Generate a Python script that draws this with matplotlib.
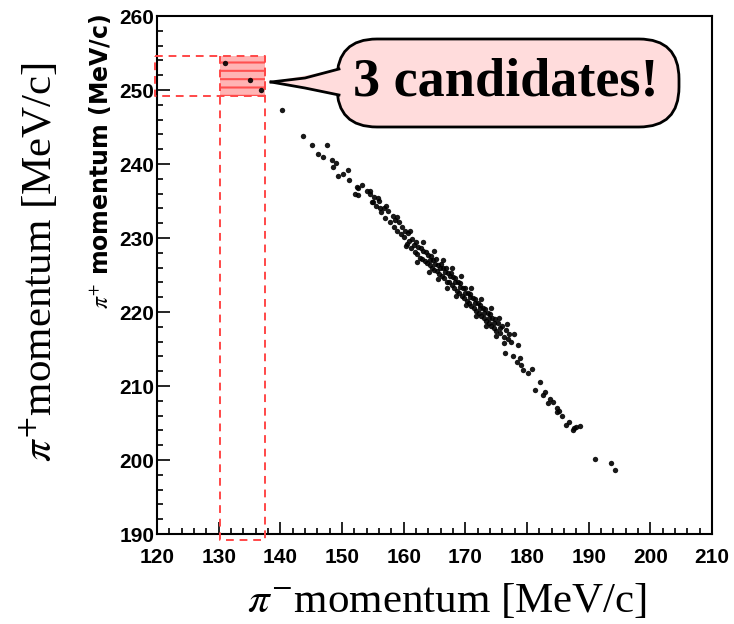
import numpy as np
import matplotlib.pyplot as plt
from matplotlib.patches import Rectangle, FancyBboxPatch, Polygon
from matplotlib.ticker import MultipleLocator

plt.rcParams['mathtext.fontset'] = 'stix'
plt.rcParams['hatch.linewidth'] = 1.5

# pi- / pi+ momentum of the events (MeV/c)
pi_minus = [140.2, 143.7, 145.1, 147.6, 147.0, 148.3, 148.6, 149.1, 149.4, 151.0,
            151.1, 152.5, 152.6, 154.0, 152.1, 152.6, 154.5, 155.0, 155.9, 156.1,
            154.5, 154.8, 155.2, 155.5, 156.0, 156.3, 156.8, 157.0, 157.5, 157.8,
            158.2, 158.4, 158.6, 159.0, 159.2, 159.5, 159.8, 160.0, 160.2, 160.5,
            160.7, 160.9, 161.2, 161.4, 161.6, 161.8, 162.0, 162.2, 162.4, 162.6,
            162.8, 163.0, 163.2, 163.4, 163.6, 163.8, 164.0, 164.2, 164.3, 164.4,
            164.6, 164.8, 165.0, 165.1, 165.2, 165.4, 165.6, 165.8, 165.9, 166.0,
            166.2, 166.4, 166.6, 166.7, 166.8, 167.0, 167.2, 167.4, 167.5, 167.6,
            167.8, 168.0, 168.2, 168.3, 168.4, 168.6, 168.8, 169.0, 169.1, 169.2,
            169.4, 169.6, 169.8, 169.9, 170.0, 170.2, 170.4, 170.6, 170.7, 170.8,
            171.0, 171.2, 171.4, 171.5, 171.6, 171.8, 172.0, 172.2, 172.3, 172.4,
            172.6, 172.8, 173.0, 173.1, 173.2, 173.4, 173.6, 173.8, 173.9, 174.0,
            174.2, 174.4, 174.6, 174.7, 174.8, 175.0, 175.3, 175.6, 175.7, 176.0,
            176.3, 176.6, 176.9, 177.1, 176.4, 177.7, 178.3, 179.1, 179.4, 180.2,
            182.1, 181.3, 182.6, 183.7, 184.2, 184.8, 185.6, 183.4, 184.8, 186.4,
            188.0, 188.6, 187.7, 191.0, 193.7, 194.2,
            157.2, 158.9, 160.3, 161.0, 162.1, 163.1, 164.1, 164.9, 165.5, 166.3,
            167.1, 167.9, 168.5, 169.3, 170.1, 170.9, 171.7, 172.5, 173.3, 174.1,
            174.9, 175.5, 176.2, 176.8, 177.4, 177.9, 178.5, 178.8, 180.8, 183.0,
            185.2, 186.8, 187.4, 150.2, 153.3, 146.1]
pi_plus = [247.3, 243.8, 242.6, 242.6, 240.9, 240.5, 239.6, 240.2, 238.4, 239.2,
           237.9, 236.9, 235.8, 236.4, 236.0, 236.7, 236.3, 234.9, 235.4, 234.0,
           235.9, 234.9, 235.6, 234.3, 235.0, 233.5, 234.1, 232.7, 233.7, 232.2,
           233.0, 231.5, 232.4, 230.9, 232.2, 230.6, 231.5, 230.1, 231.0, 229.2,
           230.7, 229.6, 228.6, 229.9, 229.0, 228.1, 229.4, 227.8, 228.8, 227.3,
           228.7, 227.1, 228.3, 226.9, 228.1, 226.6, 227.7, 226.3, 227.0, 227.6,
           226.0, 227.0, 225.7, 226.5, 227.1, 225.5, 226.4, 225.2, 226.0, 226.5,
           224.8, 225.9, 224.6, 225.4, 225.9, 224.1, 225.3, 224.0, 224.8, 225.3,
           223.6, 224.7, 223.3, 224.1, 224.6, 222.9, 224.0, 222.6, 223.4, 223.9,
           222.2, 223.3, 221.9, 222.6, 223.2, 221.5, 222.6, 221.2, 222.0, 222.4,
           220.8, 221.9, 220.5, 221.2, 221.7, 220.1, 221.2, 219.8, 220.5, 221.0,
           219.4, 220.5, 219.2, 219.9, 220.4, 218.8, 219.9, 218.5, 219.2, 219.7,
           218.1, 219.2, 217.8, 218.5, 219.0, 217.5, 218.5, 217.2, 217.9, 218.1,
           216.6, 217.6, 216.3, 217.0, 214.4, 214.0, 213.3, 212.8, 212.2, 211.7,
           210.6, 209.5, 208.8, 208.3, 207.9, 207.0, 205.9, 207.7, 206.5, 204.7,
           204.5, 204.6, 204.3, 200.1, 199.6, 198.7,
           234.3, 232.9, 228.9, 231.0, 226.8, 229.4, 225.4, 228.2, 224.4, 227.0,
           223.2, 225.9, 222.2, 224.9, 220.9, 223.3, 219.4, 221.8, 218.1, 220.5,
           216.8, 219.2, 215.8, 218.4, 216.0, 217.0, 215.6, 213.8, 212.3, 209.2,
           206.6, 205.2, 204.0, 238.6, 237.2, 241.3]

# the three candidates inside the signal box
cand_minus = [131.0, 135.1, 136.9]
cand_plus = [253.6, 251.4, 250.0]

# signal box limits
box_minus = [130.2, 137.5]
box_plus = [249.2, 254.6]

fig = plt.figure(figsize=(7.34, 6.24), dpi=100)
ax = fig.add_axes([157/734, 1 - 534/624, 555/734, 518/624])

ax.scatter(pi_minus + cand_minus, pi_plus + cand_plus, s=15, c='black', lw=0,
           alpha=0.9, zorder=3)

ax.set_xlim(120, 210)
ax.set_ylim(190, 260)
ax.xaxis.set_major_locator(MultipleLocator(10))
ax.xaxis.set_minor_locator(MultipleLocator(2))
ax.yaxis.set_major_locator(MultipleLocator(10))
ax.yaxis.set_minor_locator(MultipleLocator(2))
ax.tick_params(which='both', direction='in', top=False, right=False, width=1.2)
ax.tick_params(which='major', length=9)
ax.tick_params(which='minor', length=4.5)
ax.tick_params(axis='x', pad=10)
ax.tick_params(axis='y', pad=2)
for lab in ax.get_xticklabels() + ax.get_yticklabels():
    lab.set_fontfamily('Liberation Sans')
    lab.set_fontweight('bold')
    lab.set_fontsize(15)
for sp in ax.spines.values():
    sp.set_linewidth(1.5)

# shaded signal region
w = box_minus[1] - box_minus[0]
h = box_plus[1] - box_plus[0]
ax.add_patch(Rectangle((box_minus[0], box_plus[0]), w, h, facecolor='#ffb4b4', edgecolor='none', zorder=2))
ax.add_patch(Rectangle((box_minus[0], box_plus[0]), w, h, fill=False, hatch='--', edgecolor='#ff5050', lw=0, zorder=2))

red = dict(color='#ff4848', lw=1.4, ls=(0, (4, 3)), clip_on=False, zorder=4)
ax.plot([119.7, box_minus[1], box_minus[1], 119.7, 119.7],
        [box_plus[1], box_plus[1], box_plus[0], box_plus[0], box_plus[1]], **red)
ax.plot([box_minus[0], box_minus[0], box_minus[1], box_minus[1]],
        [box_plus[1], 189.2, 189.2, box_plus[1]], **red)

# overlay in pixel coordinates for labels and the speech bubble
ov = fig.add_axes([0, 0, 1, 1], zorder=5)
ov.set_xlim(0, 734)
ov.set_ylim(624, 0)
ov.axis('off')

ov.text(100, 14, r'$\pi^{+}$ momentum (MeV/c)', rotation=90, ha='center', va='top',
        fontsize=17, fontweight='bold', family='DejaVu Sans')
ov.text(40, 262, r'$\pi^{+}$momentum [MeV/c]', rotation=90, ha='center', va='center',
        fontsize=31, family='Liberation Serif')
ov.text(447, 602, r'$\pi^{-}$momentum [MeV/c]', ha='center', va='center',
        fontsize=31, family='Liberation Serif')

pink = '#ffdcdc'
ov.add_patch(FancyBboxPatch((352, 54), 312, 58, boxstyle='round,pad=15,rounding_size=40',
                            facecolor=pink, edgecolor='black', lw=2))
ov.add_patch(Polygon([(345, 68), (271, 82), (345, 97)], closed=True, facecolor=pink,
                     edgecolor='none', zorder=3))
ov.plot([339, 305, 271], [69, 78, 82], color='black', lw=2, zorder=4)
ov.plot([271, 305, 339], [82, 88, 95], color='black', lw=2, zorder=4)
ov.text(506, 82, '3 candidates!', ha='center', va='center', fontsize=39,
        fontweight='bold', family='Liberation Serif', zorder=5)

fig.savefig('out.png', dpi=100)
